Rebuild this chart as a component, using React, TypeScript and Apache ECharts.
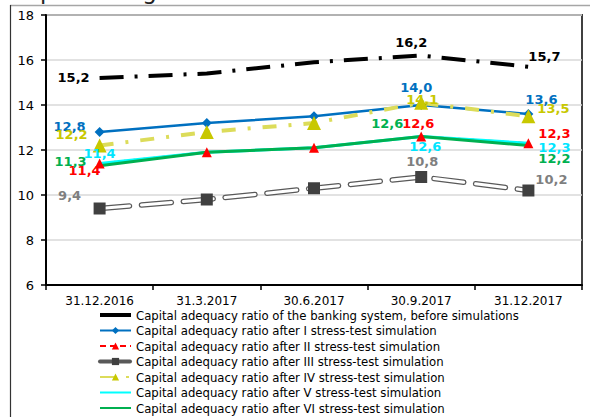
import React, { useEffect, useRef } from "react";
import * as echarts from "echarts";

const categories = ["31.12.2016", "31.3.2017", "30.6.2017", "30.9.2017", "31.12.2017"];
const seriesNames = [
  "Capital adequacy ratio of the banking system, before simulations",
  "Capital adequacy ratio after I stress-test simulation",
  "Capital adequacy ratio after II stress-test simulation",
  "Capital adequacy ratio after III stress-test simulation",
  "Capital adequacy ratio after IV stress-test simulation",
  "Capital adequacy ratio after V stress-test simulation",
  "Capital adequacy ratio after VI stress-test simulation",
];
const beforeSim = [15.2, 15.4, 15.9, 16.2, 15.7];
const stressI = [12.8, 13.2, 13.5, 14.0, 13.6];
const stressII = [11.4, 11.9, 12.1, 12.6, 12.3];
const stressIII = [9.4, 9.8, 10.3, 10.8, 10.2];
const stressIV = [12.2, 12.8, 13.2, 14.1, 13.5];
const stressV = [11.4, 11.9, 12.1, 12.6, 12.3];
const stressVI = [11.3, 11.9, 12.1, 12.6, 12.2];
const yTicks = { min: 6, max: 18, interval: 2 };

// label offsets (from point centre) for labelled points: index -> [dx, dy]
const labelOffsets: Record<string, Record<number, [number, number]>> = {
  before: { 0: [-26, -1], 3: [-10, -13], 4: [16, -10] },
  I: { 0: [-30, -6], 3: [-5, -18], 4: [13, -15] },
  II: { 0: [-15, 7], 3: [-3, -13], 4: [26, -10] },
  III: { 0: [-30, -13], 3: [1, -16], 4: [23, -11] },
  IV: { 0: [-28, -11], 3: [1, -3], 4: [25, -8] },
  V: { 0: [0, -10], 3: [4, 10], 4: [26, 4] },
  VI: { 0: [-29, -4], 3: [-34, -13], 4: [26, 13] },
};

const fmt = (v: number) => v.toFixed(1).replace(".", ",");

function withLabels(values: number[], key: string, color: string) {
  const offs = labelOffsets[key];
  return values.map((v, i) => {
    const o = offs[i];
    if (!o) return { value: v, label: { show: false } };
    return {
      value: v,
      label: {
        show: true,
        position: "inside",
        offset: o,
        formatter: () => fmt(v),
        color,
        fontFamily: "DejaVu Sans",
        fontWeight: "bold",
        fontSize: 13,
        align: "center",
        verticalAlign: "middle",
      },
    };
  });
}

export default function App() {
  const ref = useRef<HTMLDivElement>(null);
  useEffect(() => {
    if (!ref.current) return;
    const chart = echarts.init(ref.current, null, { renderer: "svg" });
    const option: any = {
      animation: false,
      backgroundColor: "#ffffff",
      grid: {
        left: 46,
        right: 8,
        top: 15,
        bottom: 132,
        show: true,
        borderColor: "#404040",
        borderWidth: 2,
      },
      graphic: [
        {
          type: "text",
          left: 40,
          top: -21,
          style: { text: "percentages", fontFamily: "DejaVu Sans", fontSize: 23, fill: "#222" },
        },
        { type: "line", shape: { x1: 10, y1: 5.5, x2: 590, y2: 5.5 }, style: { stroke: "#a6a6a6", lineWidth: 1.5 } },
        { type: "line", shape: { x1: 10.5, y1: 5, x2: 10.5, y2: 417 }, style: { stroke: "#333", lineWidth: 1.2 } },
      ],
      xAxis: {
        type: "category",
        data: categories,
        boundaryGap: true,
        axisLine: { lineStyle: { color: "#000", width: 2 } },
        axisTick: { show: true, interval: 0, length: 5, lineStyle: { color: "#000", width: 1.5 } },
        axisLabel: { color: "#000", fontFamily: "DejaVu Sans", fontSize: 12, margin: 10, interval: 0 },
      },
      yAxis: {
        type: "value",
        min: yTicks.min,
        max: yTicks.max,
        interval: yTicks.interval,
        axisLine: { show: true, lineStyle: { color: "#000", width: 2 } },
        axisTick: { show: true, length: 5, lineStyle: { color: "#000", width: 1.5 } },
        axisLabel: { color: "#000", fontFamily: "DejaVu Sans", fontSize: 13, margin: 12 },
        splitLine: { lineStyle: { color: "#d9d9d9", width: 1.5 } },
      },
      legend: {
        orient: "vertical",
        left: 98,
        top: 308.5,
        padding: 0,
        itemWidth: 31,
        itemHeight: 9,
        itemGap: 2.5,
        textStyle: { fontFamily: "DejaVu Sans Condensed", fontSize: 13, color: "#000", lineHeight: 13 },
        data: [
          { name: seriesNames[0], lineStyle: { type: "solid", width: 4 } },
          { name: seriesNames[1] },
          { name: seriesNames[2] },
          {
            name: seriesNames[3],
            lineStyle: { color: "#595959", width: 4 },
          },
          { name: seriesNames[4] },
          { name: seriesNames[5] },
          { name: seriesNames[6] },
        ],
      },
      series: [
        {
          name: seriesNames[0],
          type: "line",
          data: withLabels(beforeSim, "before", "#000"),
          symbol: "circle",
          symbolSize: 1,
          itemStyle: { color: "rgba(0,0,0,0)" },
          lineStyle: { color: "#000", width: 4, type: [24, 11, 3, 11] },
          z: 3,
        },
        {
          name: seriesNames[1],
          type: "line",
          data: withLabels(stressI, "I", "#0070c0"),
          symbol: "diamond",
          symbolSize: 10,
          itemStyle: { color: "#0070c0" },
          lineStyle: { color: "#0070c0", width: 2.5 },
          z: 3,
        },
        {
          name: seriesNames[2],
          type: "line",
          data: withLabels(stressII, "II", "#ff0000"),
          symbol: "triangle",
          symbolSize: 10,
          itemStyle: { color: "#ff0000" },
          lineStyle: { color: "#ff0000", width: 2, type: [6, 4] },
          z: 3,
        },
        {
          name: "III-outline",
          type: "line",
          data: stressIII,
          symbol: "none",
          silent: true,
          lineStyle: { color: "#595959", width: 5.5, type: [30, 12], cap: "round" },
          z: 3,
        },
        {
          name: seriesNames[3],
          type: "line",
          data: withLabels(stressIII, "III", "#7f7f7f"),
          symbol: "rect",
          symbolSize: 12,
          itemStyle: { color: "#404040" },
          lineStyle: { color: "#ffffff", width: 3, type: [30, 12], cap: "round" },
          z: 3,
        },
        {
          name: seriesNames[4],
          type: "line",
          data: withLabels(stressIV, "IV", "#c8c800"),
          symbol: "triangle",
          symbolSize: 14,
          itemStyle: { color: "#c8c800" },
          lineStyle: { color: "#dcdc5a", width: 4, type: [14, 12, 3, 12] },
          z: 3,
        },
        {
          name: seriesNames[5],
          type: "line",
          data: withLabels(stressV, "V", "#00e5ff"),
          symbol: "circle",
          symbolSize: 1,
          itemStyle: { color: "rgba(0,0,0,0)" },
          lineStyle: { color: "#00ffff", width: 3 },
          z: 3,
        },
        {
          name: seriesNames[6],
          type: "line",
          data: withLabels(stressVI, "VI", "#00b050"),
          symbol: "circle",
          symbolSize: 1,
          itemStyle: { color: "rgba(0,0,0,0)" },
          lineStyle: { color: "#00b050", width: 3 },
          z: 3,
        },
      ],
    };
    chart.setOption(option);
    return () => chart.dispose();
  }, []);
  return <div ref={ref} style={{ position: "fixed", left: 0, top: 0, width: 590, height: 417 }} />;
}
